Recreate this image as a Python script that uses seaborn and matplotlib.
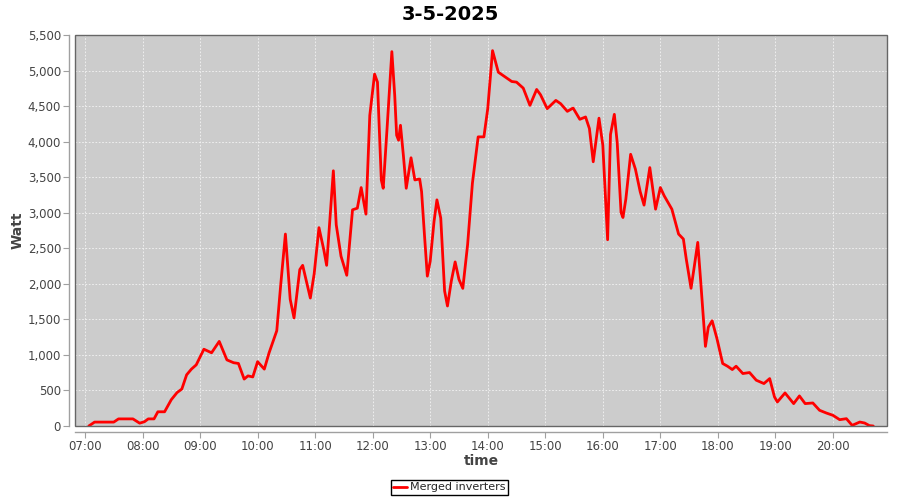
import matplotlib
matplotlib.use("Agg")
import matplotlib.pyplot as plt
import matplotlib.dates as mdates
from matplotlib.patches import Rectangle
import seaborn as sns
import pandas as pd

title = "3-5-2025"
series_name = "Merged inverters"
date = "2025-05-03"

times = [
    "07:04", "07:10", "07:15", "07:30", "07:35", "07:50", "07:57", "08:02", "08:06", "08:12",
    "08:16", "08:23", "08:30", "08:36", "08:41", "08:46", "08:51", "08:56", "09:04", "09:12",
    "09:20", "09:28", "09:35", "09:40", "09:46", "09:50", "09:55", "10:00", "10:07", "10:12",
    "10:20", "10:24", "10:29", "10:34", "10:38", "10:44", "10:47", "10:55", "10:59", "11:04",
    "11:09", "11:12", "11:19", "11:22", "11:27", "11:33", "11:39", "11:44", "11:48", "11:53",
    "11:57", "12:02", "12:05", "12:09", "12:11", "12:15", "12:20", "12:23", "12:25", "12:27",
    "12:29", "12:32", "12:35", "12:40", "12:44", "12:49", "12:51", "12:54", "12:57", "13:00",
    "13:04", "13:07", "13:11", "13:15", "13:18", "13:22", "13:26", "13:30", "13:34", "13:39",
    "13:44", "13:50", "13:56", "14:00", "14:05", "14:11", "14:16", "14:25", "14:30", "14:37",
    "14:44", "14:51", "14:55", "15:02", "15:11", "15:16", "15:23", "15:29", "15:36", "15:42",
    "15:46", "15:50", "15:56", "16:00", "16:05", "16:08", "16:12", "16:15", "16:19", "16:21",
    "16:24", "16:29", "16:34", "16:39", "16:43", "16:49", "16:55", "17:00", "17:04", "17:08",
    "17:12", "17:19", "17:24", "17:27", "17:32", "17:35", "17:39", "17:42", "17:47", "17:50",
    "17:54", "17:59", "18:05", "18:10", "18:15", "18:19", "18:26", "18:33", "18:40", "18:48",
    "18:54", "18:59", "19:02", "19:10", "19:19", "19:25", "19:31", "19:39", "19:46", "19:53",
    "20:00", "20:07", "20:14", "20:20", "20:28", "20:33", "20:38", "20:42",
]
watts = [
    0, 55, 55, 55, 100, 100, 40, 60, 100, 100,
    200, 200, 370, 470, 520, 720, 800, 860, 1080, 1030,
    1190, 930, 890, 880, 660, 705, 690, 905, 800, 1030,
    1340, 1968, 2700, 1782, 1520, 2200, 2260, 1800, 2140, 2790,
    2481, 2260, 3590, 2831, 2388, 2120, 3041, 3064, 3354, 2980,
    4370, 4950, 4837, 3461, 3344, 4184, 5266, 4650, 4090, 4020,
    4230, 3810, 3344, 3773, 3461, 3475, 3297, 2690, 2108, 2318,
    2878, 3181, 2925, 1900, 1688, 2038, 2308, 2061, 1936, 2551,
    3414, 4067, 4067, 4464, 5280, 4977, 4930, 4846, 4837, 4753,
    4510, 4734, 4660, 4464, 4580, 4534, 4426, 4473, 4314, 4347,
    4184, 3717, 4330, 3950, 2620, 4100, 4384, 3986, 3004, 2933,
    3191, 3822, 3612, 3294, 3107, 3635, 3050, 3354, 3238, 3144,
    3050, 2700, 2630, 2349, 1937, 2209, 2583, 2045, 1120, 1390,
    1480, 1230, 879, 841, 794, 841, 738, 752, 644, 597,
    667, 409, 338, 465, 315, 423, 315, 324, 221, 183,
    150, 89, 103, 9, 56, 42, 5, 0,
]

df = pd.DataFrame({"time": pd.to_datetime([f"{date} {t}" for t in times]),
                   "Watt": watts, "series": series_name})

sns.set_theme(style="white")
plt.rcParams["font.family"] = ["DejaVu Sans"]

fig = plt.figure(figsize=(9, 5), dpi=100)
ax = fig.add_axes([75/900, 1-426/500, (887-75)/900, (426-35)/500])
ax.set_facecolor("#cccccc")

sns.lineplot(data=df, x="time", y="Watt", hue="series", palette=["#ff0000"],
             linewidth=2.0, ax=ax, legend=False)

ax.set_xlim(pd.Timestamp(f"{date} 06:49:36"), pd.Timestamp(f"{date} 20:56:20"))
ax.set_ylim(0, 5500)
ax.set_yticks(range(0, 5501, 500))
ax.yaxis.set_major_formatter(matplotlib.ticker.FuncFormatter(lambda v, p: f"{int(v):,}"))
ax.xaxis.set_major_locator(mdates.HourLocator())
ax.xaxis.set_major_formatter(mdates.DateFormatter("%H:%M"))

ax.grid(True, color="#f4f4f4", linestyle=(0, (2, 2)), linewidth=0.6)
ax.set_axisbelow(True)

for s in ["top", "right"]:
    ax.spines[s].set_visible(False)
for s in ["left", "bottom"]:
    ax.spines[s].set_position(("outward", 4))
    ax.spines[s].set_color("#a0a0a0")
    ax.spines[s].set_linewidth(1.0)
ax.add_patch(Rectangle((0, 0), 1, 1, transform=ax.transAxes, fill=False,
                       edgecolor="#666666", linewidth=1.0, clip_on=False, zorder=5))

ax.tick_params(axis="both", which="major", length=4, width=0.8, color="#a0a0a0",
               labelsize=8.5, labelcolor="#444444", pad=2, direction="out",
               left=True, bottom=True)

ax.set_xlabel("time", fontsize=10, fontweight="bold", color="#444444", labelpad=1)
ax.set_ylabel("Watt", fontsize=10, fontweight="bold", color="#444444", labelpad=2)
fig.text(0.5, 1-14/500, title, fontsize=14, fontweight="bold", color="black",
         ha="center", va="center")

handles = [plt.Line2D([], [], color="#ff0000", linewidth=2.0)]
leg = fig.legend(handles, [series_name], loc="center", bbox_to_anchor=(449.5/900, 1-487.5/500),
                 frameon=True, fancybox=False, edgecolor="black", framealpha=1,
                 fontsize=8, handlelength=1.2, handletextpad=0.3, borderpad=0.25,
                 borderaxespad=0)
leg.get_frame().set_linewidth(1.0)

fig.savefig("out.png", dpi=100)
